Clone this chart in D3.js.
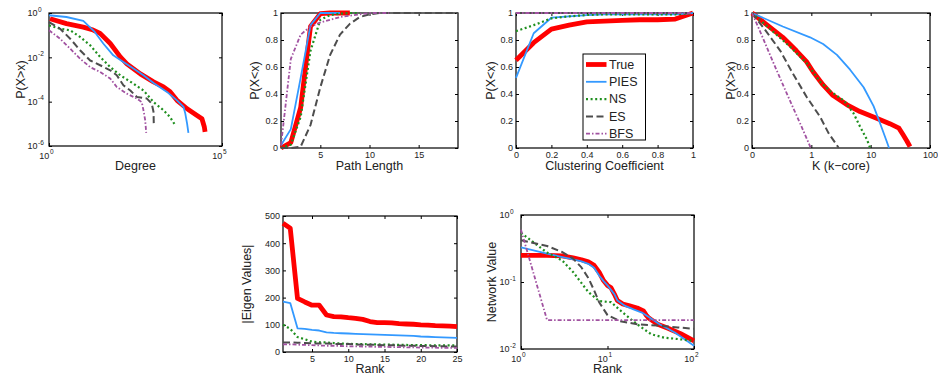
<!DOCTYPE html>
<html>
<head>
<meta charset="utf-8">
<script src="https://cdn.jsdelivr.net/npm/d3@7"></script>
<style>
  body { margin: 0; background: #fff; }
  svg { display: block; font-family: 'Liberation Sans', Arial, Helvetica, sans-serif; }
</style>
</head>
<body>
<svg id="chart" width="938" height="381"></svg>
<script>
const seriesNames = ['True', 'PIES', 'NS', 'ES', 'BFS']

// degree distribution, [degree, P(X>x)]
const degreeTrue = [[1.07, 0.55], [3.2, 0.33], [9.8, 0.23], [19, 0.17], [30, 0.12], [59, 0.042], [115, 0.0105], [178, 0.0051], [437, 0.0018], [1050, 0.00078], [2040, 0.00046], [3160, 0.00028], [5000, 0.000115], [9800, 0.000048], [19000, 0.000024], [26300, 0.000017], [30900, 0.0000072], [32400, 0.0000043]]
const degreePies = [[1, 0.79], [3.2, 0.66], [9.8, 0.44], [21, 0.14], [37, 0.042], [72, 0.0123], [141, 0.0062], [275, 0.0031], [537, 0.00155], [1050, 0.00069], [2570, 0.000275], [5000, 0.000115], [7760, 0.0000575], [8700, 0.0000288], [9800, 0.0000102], [10700, 0.0000039]]
const degreeNs = [[1, 0.275], [2.1, 0.195], [4.1, 0.166], [7.9, 0.083], [15.5, 0.035], [30, 0.0105], [59, 0.0036], [115, 0.00155], [275, 0.00065], [537, 0.00032], [1050, 0.000095], [2040, 0.000041], [3160, 0.00002], [4470, 0.0000085]]
const degreeEs = [[1, 0.39], [2.1, 0.195], [4.1, 0.069], [7.9, 0.021], [15.5, 0.0072], [30, 0.0044], [59, 0.0026], [91, 0.00155], [141, 0.00055], [224, 0.00032], [347, 0.000162], [676, 0.000138], [933, 0.000081], [1050, 0.000034], [1070, 0.0000085]]
const degreeBfs = [[1, 0.166], [2.1, 0.069], [4.1, 0.0245], [7.9, 0.0087], [15.5, 0.0036], [30, 0.0022], [59, 0.0011], [91, 0.00046], [178, 0.00023], [347, 0.000138], [479, 0.000095], [537, 0.000041], [603, 0.0000145], [646, 0.0000039]]

// hop plot, P(X<x) by path length
const pathLength = [1, 2, 3, 4, 5, 6, 7, 8, 9, 10, 11, 12, 13, 14, 15, 16, 17, 18, 19]
const pathTrue = [0, 0.04, 0.3, 0.9, 0.995, 1, 1, 1]
const pathPies = [0.02, 0.14, 0.52, 0.91, 1, 1, 1]
const pathNs = [0, 0.025, 0.23, 0.72, 0.95, 0.985, 0.995, 1, 1]
const pathEs = [0, 0, 0.01, 0.17, 0.45, 0.69, 0.84, 0.92, 0.97, 0.99, 1, 1, 1, 1, 1, 1, 1, 1, 1]
const pathBfs = [0.02, 0.66, 0.84, 0.9, 0.93, 0.95, 0.97, 0.98, 0.99, 1, 1, 1]

// clustering coefficient CDF
const ccBins = [0, 0.1, 0.2, 0.3, 0.4, 0.5, 0.6, 0.7, 0.8, 0.9, 1]
const ccTrue = [0.65, 0.78, 0.88, 0.91, 0.935, 0.94, 0.945, 0.95, 0.95, 0.955, 1]
const ccPies = [0.52, 0.85, 0.965, 0.975, 0.985, 0.99, 0.99, 0.99, 0.99, 0.99, 1]
const ccNs = [0.865, 0.91, 0.96, 0.975, 0.985, 0.99, 0.99, 0.99, 0.99, 0.99, 1]
const ccEs = [1, 1, 1, 1, 1, 1, 1, 1, 1, 1, 1]
const ccBfs = [1, 1, 1, 1, 1, 1, 1, 1, 1, 1, 1]

// k-core, [k, P(X>x)]  (0.1 stands for k = 0 on the log axis)
const kcoreTrue = [[0.1, 1], [0.17, 0.92], [0.33, 0.82], [0.56, 0.72], [0.83, 0.64], [1.07, 0.565], [1.58, 0.467], [2.3, 0.39], [4, 0.32], [6.6, 0.27], [12.6, 0.22], [21, 0.18], [30, 0.147], [35, 0.1], [41, 0.05], [46, 0.01]]
const kcorePies = [[0.1, 1], [0.33, 0.9], [0.95, 0.82], [1.58, 0.77], [2.7, 0.69], [4.5, 0.58], [7.6, 0.45], [11.2, 0.31], [14.5, 0.18], [18.6, 0.05], [20.4, 0]]
const kcoreNs = [[0.1, 1], [0.23, 0.86], [0.44, 0.75], [0.83, 0.63], [1.41, 0.49], [2.1, 0.42], [3.55, 0.35], [5.1, 0.26], [6.6, 0.16], [8.7, 0.06], [9.8, 0]]
const kcoreEs = [[0.1, 1], [0.17, 0.87], [0.3, 0.72], [0.49, 0.55], [0.83, 0.38], [1.41, 0.23], [1.95, 0.11], [2.9, 0]]
const kcoreBfs = [[0.1, 1], [0.135, 0.87], [0.23, 0.63], [0.38, 0.41], [0.65, 0.18], [0.98, 0]]

// top eigenvalues by rank
const eigRank = [1, 2, 3, 4, 5, 6, 7, 8, 9, 10, 11, 12, 13, 14, 15, 16, 17, 18, 19, 20, 21, 22, 23, 24, 25]
const eigTrue = [473, 455, 197, 184, 172, 172, 136, 130, 129, 126, 124, 120, 112, 108, 108, 107, 104, 103, 102, 100, 99, 97, 96, 95, 93]
const eigPies = [185, 180, 87, 85, 81, 79, 72, 70, 69, 68, 67, 66, 65, 64, 63, 62, 61, 60, 59, 57, 56, 55, 54, 53, 52]
const eigNs = [100, 85, 55, 47, 38, 36, 35, 33, 31, 30, 29, 29, 28, 28, 27, 27, 26, 26, 25, 25, 25, 24, 24, 24, 24]
const eigEs = [35, 35, 34, 33, 32, 31, 31, 30, 29, 29, 28, 27, 27, 26, 25, 25, 24, 23, 23, 22, 22, 21, 21, 20, 20]
const eigBfs = [28, 28, 27, 26, 25, 24, 23, 23, 22, 21, 21, 20, 20, 19, 19, 18, 18, 17, 17, 16, 16, 16, 15, 15, 15]

// network value, [rank, value]
const netTrue = [[1, 0.25], [2, 0.25], [3, 0.245], [4, 0.23], [5, 0.215], [6, 0.2], [7, 0.177], [8, 0.14], [9, 0.105], [10, 0.089], [11, 0.082], [12, 0.066], [13, 0.053], [15, 0.047], [18, 0.044], [22, 0.041], [26, 0.037], [28, 0.032], [30, 0.029], [38, 0.0234], [50, 0.0204], [70, 0.0169], [100, 0.0132]]
const netPies = [[1, 0.33], [2, 0.265], [3, 0.236], [4, 0.218], [5, 0.203], [6, 0.187], [7, 0.163], [8, 0.125], [9, 0.103], [10, 0.089], [12, 0.066], [13, 0.053], [16, 0.044], [20, 0.039], [25, 0.035], [30, 0.03], [40, 0.0234], [60, 0.0176], [100, 0.0112]]
const netNs = [[1, 0.54], [2, 0.275], [3, 0.209], [4, 0.141], [6, 0.071], [8, 0.052], [11, 0.05], [15, 0.035], [22, 0.0234], [32, 0.0166], [45, 0.0148], [65, 0.0141], [100, 0.0132]]
const netEs = [[1, 0.42], [2, 0.345], [3, 0.28], [4, 0.224], [5, 0.165], [6, 0.115], [7, 0.075], [8, 0.05], [10, 0.032], [14, 0.026], [22, 0.0234], [38, 0.0224], [65, 0.021], [100, 0.02]]
const netBfs = [[1, 0.6], [2, 0.027], [100, 0.027]]

const seriesStyle = {
  True: { color: '#ff0000', width: 4.8, dash: null },
  PIES: { color: '#3399ff', width: 1.8, dash: null },
  NS: { color: '#1f8f1f', width: 2.2, dash: '2,2.6' },
  ES: { color: '#4d4d4d', width: 2, dash: '7,3.5' },
  BFS: { color: '#a152a1', width: 1.8, dash: '4,2,1.5,2' },
}

const svg = d3.select('#chart')

function pairs (xs, ys) {
  return ys.map((v, i) => [xs[i], v])
}

function supLabel (sel, v, anchorX, baseY, supY) {
  const e = Math.round(Math.log10(v))
  sel.append('text').attr('x', anchorX).attr('y', baseY)
    .attr('text-anchor', 'end').attr('font-size', 9).attr('fill', '#222').text('10')
  sel.append('text').attr('x', anchorX + 0.6).attr('y', supY)
    .attr('text-anchor', 'start').attr('font-size', 6.5).attr('fill', '#222').text(e < 0 ? '-' + (-e) : e)
}

function drawPanel ({ box, x, y, xTicks, yTicks, xFormat, yFormat, logX, logY, xLabel, yLabel, yLabelX, xLabelY, series }) {
  const w = box.right - box.left
  const h = box.bottom - box.top
  x.range([0, w])
  y.range([h, 0])
  const g = svg.append('g').attr('transform', `translate(${box.left},${box.top})`)

  const axes = [
    { gen: d3.axisBottom(x).tickValues(xTicks), tr: `translate(0,${h})`, fmt: logX ? () => '' : xFormat, pad: 3.5 },
    { gen: d3.axisTop(x).tickValues(xTicks), tr: 'translate(0,0)', fmt: () => '', pad: 3 },
    { gen: d3.axisLeft(y).tickValues(yTicks), tr: 'translate(0,0)', fmt: logY ? () => '' : yFormat, pad: 3 },
    { gen: d3.axisRight(y).tickValues(yTicks), tr: `translate(${w},0)`, fmt: () => '', pad: 3 },
  ]
  axes.forEach(a => {
    const ag = g.append('g').attr('transform', a.tr)
      .call(a.gen.tickSize(-3).tickPadding(a.pad).tickFormat(a.fmt))
    ag.select('.domain').remove()
    ag.attr('font-size', 9).attr('font-family', null).style('color', '#222')
    ag.selectAll('line').attr('stroke', '#000')
  })

  if (logX) {
    xTicks.forEach(v => supLabel(g, v, x(v) + 0.3, h + 12.8, h + 8))
  }
  if (logY) {
    yTicks.forEach(v => supLabel(g, v, -11.6, y(v) + 3.3, y(v) - 1.2))
  }

  g.append('rect').attr('width', w).attr('height', h)
    .attr('fill', 'none').attr('stroke', '#000').attr('stroke-width', 1.2)

  const line = d3.line().x(d => x(d[0])).y(d => y(d[1]))
  series.forEach((pts, i) => {
    const s = seriesStyle[seriesNames[i]]
    g.append('path').attr('d', line(pts))
      .attr('fill', 'none')
      .attr('stroke', s.color)
      .attr('stroke-width', s.width)
      .attr('stroke-dasharray', s.dash)
      .attr('stroke-linejoin', 'round')
  })

  g.append('text').attr('x', w / 2).attr('y', xLabelY - box.top)
    .attr('text-anchor', 'middle').attr('font-size', 12.5).attr('fill', '#222').text(xLabel)
  g.append('text')
    .attr('transform', `translate(${yLabelX - box.left},${h / 2}) rotate(-90)`)
    .attr('dy', '0.35em')
    .attr('text-anchor', 'middle').attr('font-size', 12.5).attr('fill', '#222').text(yLabel)
  return g
}

const fmtLinear = d3.format('')

drawPanel({
  box: { left: 49, top: 13, right: 222, bottom: 146 },
  x: d3.scaleLog().domain([1, 1e5]),
  y: d3.scaleLog().domain([1e-6, 1]),
  xTicks: [1, 1e5],
  yTicks: [1e-6, 1e-4, 1e-2, 1],
  logX: true,
  logY: true,
  xLabel: 'Degree',
  yLabel: 'P(X>x)',
  yLabelX: 21,
  xLabelY: 170,
  series: [degreeTrue, degreePies, degreeNs, degreeEs, degreeBfs],
})

drawPanel({
  box: { left: 281, top: 13, right: 458, bottom: 148 },
  x: d3.scaleLinear().domain([1, 19]),
  y: d3.scaleLinear().domain([0, 1]),
  xTicks: [5, 10, 15],
  yTicks: [0, 0.2, 0.4, 0.6, 0.8, 1],
  xFormat: fmtLinear,
  yFormat: fmtLinear,
  xLabel: 'Path Length',
  yLabel: 'P(X<x)',
  yLabelX: 255,
  xLabelY: 170,
  series: [pathTrue, pathPies, pathNs, pathEs, pathBfs].map(s => pairs(pathLength, s)),
})

const ccPanel = drawPanel({
  box: { left: 516, top: 13, right: 693, bottom: 148 },
  x: d3.scaleLinear().domain([0, 1]),
  y: d3.scaleLinear().domain([0, 1]),
  xTicks: [0, 0.2, 0.4, 0.6, 0.8, 1],
  yTicks: [0, 0.2, 0.4, 0.6, 0.8, 1],
  xFormat: fmtLinear,
  yFormat: fmtLinear,
  xLabel: 'Clustering Coefficient',
  yLabel: 'P(X<x)',
  yLabelX: 491,
  xLabelY: 170,
  series: [ccTrue, ccPies, ccNs, ccEs, ccBfs].map(s => pairs(ccBins, s)),
})

drawPanel({
  box: { left: 752, top: 13, right: 930, bottom: 148 },
  x: d3.scaleLog().domain([0.1, 100]),
  y: d3.scaleLinear().domain([0, 1]),
  xTicks: [0.1, 1, 10, 100],
  yTicks: [0, 0.2, 0.4, 0.6, 0.8, 1],
  xFormat: v => v < 1 ? '0' : String(v),
  yFormat: fmtLinear,
  xLabel: 'K (k\u2212core)',
  yLabel: 'P(X>x)',
  yLabelX: 731,
  xLabelY: 170,
  series: [kcoreTrue, kcorePies, kcoreNs, kcoreEs, kcoreBfs],
})

drawPanel({
  box: { left: 283, top: 216, right: 457, bottom: 352 },
  x: d3.scaleLinear().domain([1, 25]),
  y: d3.scaleLinear().domain([0, 500]),
  xTicks: [5, 10, 15, 20, 25],
  yTicks: [0, 100, 200, 300, 400, 500],
  xFormat: fmtLinear,
  yFormat: fmtLinear,
  xLabel: 'Rank',
  yLabel: '|Eigen Values|',
  yLabelX: 247,
  xLabelY: 373,
  series: [eigTrue, eigPies, eigNs, eigEs, eigBfs].map(s => pairs(eigRank, s)),
})

drawPanel({
  box: { left: 521, top: 215, right: 694, bottom: 349 },
  x: d3.scaleLog().domain([1, 100]),
  y: d3.scaleLog().domain([0.01, 1]),
  xTicks: [1, 10, 100],
  yTicks: [0.01, 0.1, 1],
  logX: true,
  logY: true,
  xLabel: 'Rank',
  yLabel: 'Network Value',
  yLabelX: 492,
  xLabelY: 373,
  series: [netTrue, netPies, netNs, netEs, netBfs],
})

// legend inside the clustering panel
const legend = ccPanel.append('g').attr('transform', `translate(${583 - 516},${54 - 13})`)
legend.append('rect').attr('width', 62.5).attr('height', 86)
  .attr('fill', '#fff').attr('stroke', '#000').attr('stroke-width', 1)
seriesNames.forEach((name, i) => {
  const s = seriesStyle[name]
  const cy = 10.5 + i * 17.3
  legend.append('line').attr('x1', 3).attr('x2', 23.5).attr('y1', cy).attr('y2', cy)
    .attr('stroke', s.color).attr('stroke-width', s.width).attr('stroke-dasharray', s.dash)
  legend.append('text').attr('x', 26).attr('y', cy + 4.3)
    .attr('font-size', 12.5).attr('fill', '#222').text(name)
})
</script>
</body>
</html>
